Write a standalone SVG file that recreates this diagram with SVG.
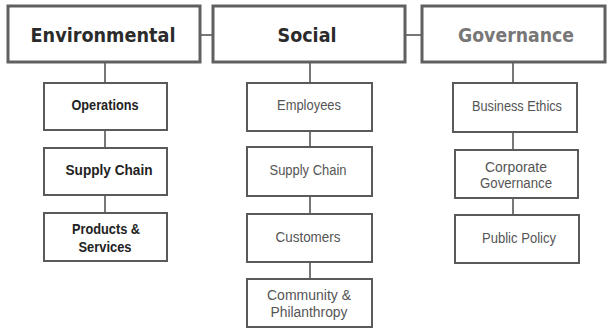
<svg xmlns="http://www.w3.org/2000/svg" width="607" height="328" viewBox="0 0 607 328">
<style>
.top{fill:#fff;stroke:#606060;stroke-width:3}
.sub{fill:#fff;stroke:#5a5a5a;stroke-width:2}
.title{font-family:"DejaVu Sans","Liberation Sans",sans-serif;font-weight:bold;font-size:20px;text-anchor:middle}
.lbl{font-family:"Liberation Sans Narrow","Liberation Sans",sans-serif;font-size:14px;text-anchor:middle}
.dark{fill:#222;font-weight:bold}
.grey{fill:#555}
.conn line{stroke:#777;stroke-width:2}
</style>
<rect width="607" height="328" fill="#fff"/>
<g class="conn">
<line x1="200" y1="35" x2="213" y2="35"/>
<line x1="405" y1="35" x2="422" y2="35"/>
<line x1="105" y1="62" x2="105" y2="83"/>
<line x1="105" y1="130" x2="105" y2="147"/>
<line x1="105" y1="195" x2="105" y2="213"/>
<line x1="310" y1="62" x2="310" y2="83"/>
<line x1="310" y1="131" x2="310" y2="147"/>
<line x1="310" y1="196" x2="310" y2="214"/>
<line x1="310" y1="262" x2="310" y2="279"/>
<line x1="513" y1="62" x2="513" y2="83"/>
<line x1="513" y1="132" x2="513" y2="150"/>
<line x1="513" y1="198" x2="513" y2="215"/>
</g>
<g id="environmental">
<rect class="top" x="8" y="6" width="192" height="56"/>
<text class="title" x="103" y="42" fill="#2b2b2b" textLength="145" lengthAdjust="spacingAndGlyphs">Environmental</text>
</g>
<g id="social">
<rect class="top" x="213" y="6" width="192" height="56"/>
<text class="title" x="307" y="42" fill="#2b2b2b" textLength="59" lengthAdjust="spacingAndGlyphs">Social</text>
</g>
<g id="governance">
<rect class="top" x="422" y="6" width="183" height="56"/>
<text class="title" x="516" y="42" fill="#777" textLength="116" lengthAdjust="spacingAndGlyphs">Governance</text>
</g>
<g id="operations">
<rect class="sub" x="44" y="83" width="123" height="47"/>
<text class="lbl dark" x="105" y="110" textLength="67" lengthAdjust="spacingAndGlyphs">Operations</text>
</g>
<g id="env-supply-chain">
<rect class="sub" x="44" y="148" width="123" height="47"/>
<text class="lbl dark" x="109" y="175" textLength="87" lengthAdjust="spacingAndGlyphs">Supply Chain</text>
</g>
<g id="products-services">
<rect class="sub" x="44" y="213" width="123" height="48"/>
<text class="lbl dark" x="106" y="234" textLength="68" lengthAdjust="spacingAndGlyphs">Products &amp;</text>
<text class="lbl dark" x="105" y="252" textLength="53" lengthAdjust="spacingAndGlyphs">Services</text>
</g>
<g id="employees">
<rect class="sub" x="247" y="83" width="125" height="48"/>
<text class="lbl grey" x="309" y="110" textLength="64" lengthAdjust="spacingAndGlyphs">Employees</text>
</g>
<g id="soc-supply-chain">
<rect class="sub" x="247" y="147" width="125" height="49"/>
<text class="lbl grey" x="308" y="175" textLength="77" lengthAdjust="spacingAndGlyphs">Supply Chain</text>
</g>
<g id="customers">
<rect class="sub" x="247" y="214" width="125" height="48"/>
<text class="lbl grey" x="308" y="242" textLength="65" lengthAdjust="spacingAndGlyphs">Customers</text>
</g>
<g id="community">
<rect class="sub" x="247" y="279" width="125" height="48"/>
<text class="lbl grey" x="309" y="300" textLength="84" lengthAdjust="spacingAndGlyphs">Community &amp;</text>
<text class="lbl grey" x="309" y="317" textLength="77" lengthAdjust="spacingAndGlyphs">Philanthropy</text>
</g>
<g id="business-ethics">
<rect class="sub" x="453" y="83" width="124" height="49"/>
<text class="lbl grey" x="517" y="111" textLength="90" lengthAdjust="spacingAndGlyphs">Business Ethics</text>
</g>
<g id="corporate-governance">
<rect class="sub" x="455" y="150" width="123" height="48"/>
<text class="lbl grey" x="516" y="172" textLength="62" lengthAdjust="spacingAndGlyphs">Corporate</text>
<text class="lbl grey" x="516" y="188" textLength="72" lengthAdjust="spacingAndGlyphs">Governance</text>
</g>
<g id="public-policy">
<rect class="sub" x="455" y="215" width="124" height="48"/>
<text class="lbl grey" x="519" y="243" textLength="74" lengthAdjust="spacingAndGlyphs">Public Policy</text>
</g>
</svg>
